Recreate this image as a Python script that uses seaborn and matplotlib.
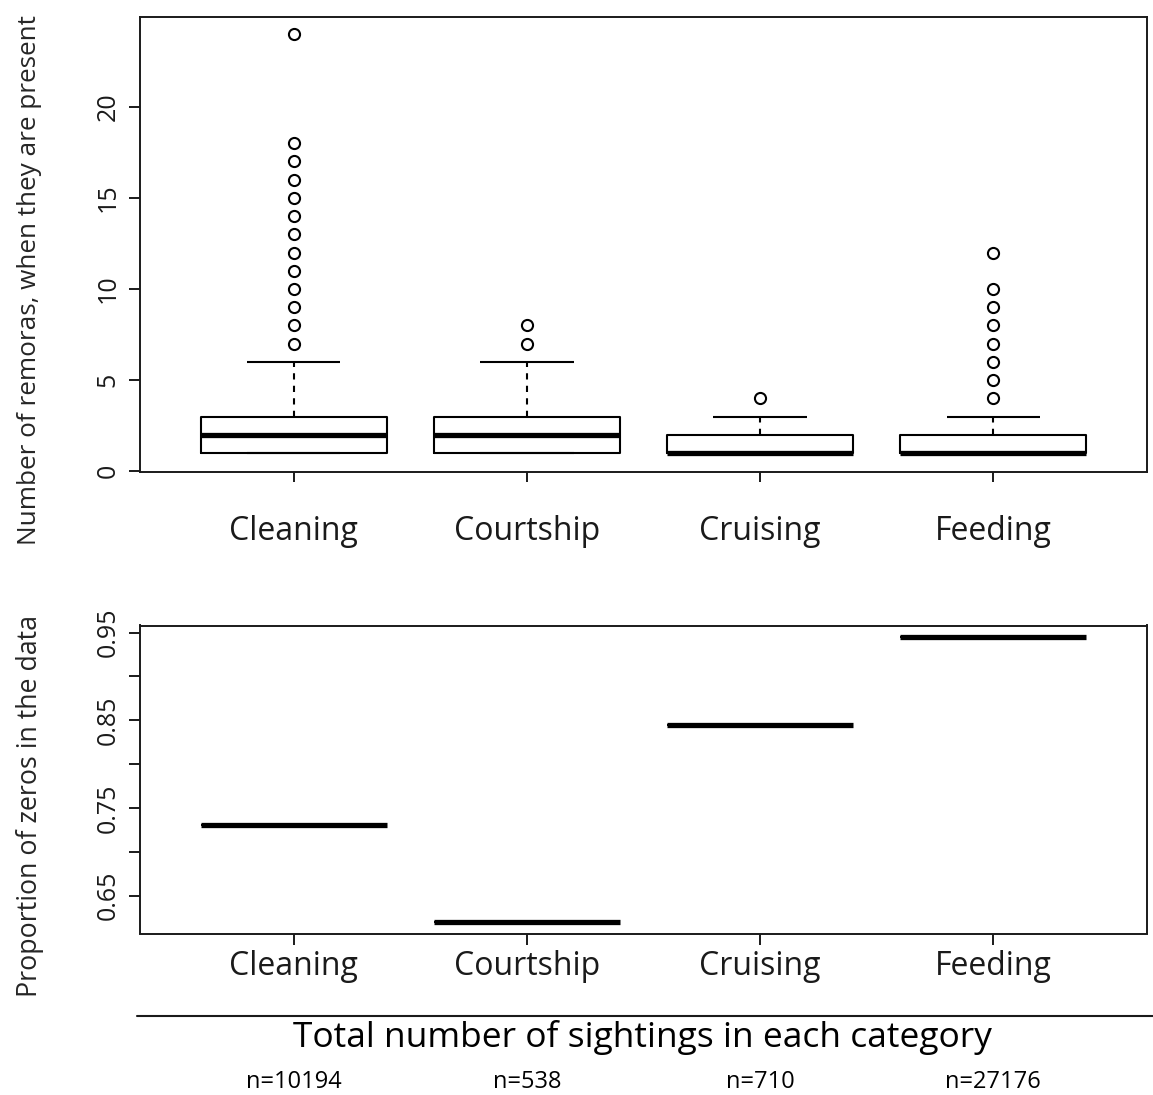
import numpy as np
import matplotlib
matplotlib.use("Agg")
import matplotlib.pyplot as plt
from matplotlib.lines import Line2D
from matplotlib.ticker import FixedLocator
import seaborn as sns

# ---- data -------------------------------------------------------------
behaviours = ["Cleaning", "Courtship", "Cruising", "Feeding"]

# Remora counts when present: box-plot summaries per behaviour
q1 = [1, 1, 1, 1]
median = [2, 2, 1, 1]
q3 = [3, 3, 2, 2]
whisker_low = [1, 1, 1, 1]
whisker_high = [6, 6, 3, 3]
cleaning_outliers = [7, 8, 9, 10, 11, 12, 13, 14, 15, 16, 17, 18, 24]
courtship_outliers = [7, 8]
cruising_outliers = [4]
feeding_outliers = [4, 5, 6, 7, 8, 9, 10, 12]

# Proportion of zero counts per behaviour
prop_zeros = [0.731, 0.620, 0.845, 0.945]

# Total sightings per behaviour
n_sightings = [10194, 538, 710, 27176]

top_yticks = [0, 5, 10, 15, 20]
bottom_yticks = [0.65, 0.75, 0.85, 0.95]

# ---- style ------------------------------------------------------------
sns.set_theme(style="ticks")
plt.rcParams["font.family"] = ["Open Sans", "DejaVu Sans"]
plt.rcParams["axes.edgecolor"] = "#1a1a1a"
plt.rcParams["axes.linewidth"] = 1.4
plt.rcParams["xtick.color"] = "#1a1a1a"
plt.rcParams["ytick.color"] = "#1a1a1a"
plt.rcParams["text.color"] = "black"

W, H = 1153, 1095
fig = plt.figure(figsize=(W / 100, H / 100), dpi=100)
fig.patch.set_facecolor("white")

x_left, x_right = 140, 1147
ax1 = fig.add_axes([x_left / W, 1 - 471.7 / H, (x_right - x_left) / W, 454.7 / H])
ax2 = fig.add_axes([x_left / W, 1 - 933.5 / H, (x_right - x_left) / W, 308 / H])

# ---- top panel: box plots of counts ----------------------------------
outliers = [cleaning_outliers, courtship_outliers, cruising_outliers, feeding_outliers]
stats = []
for i, name in enumerate(behaviours):
    stats.append(dict(label=name, q1=q1[i], med=median[i], q3=q3[i],
                      whislo=whisker_low[i], whishi=whisker_high[i],
                      fliers=np.array(outliers[i], dtype=float)))

ax1.bxp(stats, positions=range(len(behaviours)), widths=0.8, capwidths=0.4,
        showfliers=True, patch_artist=False,
        boxprops=dict(color="black", linewidth=1.5),
        whiskerprops=dict(color="black", linewidth=1.5, linestyle=(0, (3, 3))),
        capprops=dict(color="black", linewidth=1.5, solid_capstyle="butt"),
        medianprops=dict(color="black", linewidth=3.8, solid_capstyle="butt"),
        flierprops=dict(marker="o", markerfacecolor="none", markeredgecolor="black",
                        markersize=8, markeredgewidth=1.5, linestyle="none"))

ax1.set_xlim(-0.66, 3.66)
ax1.set_ylim(-0.02, 24.92)
ax1.set_xticks(range(len(behaviours)))
ax1.set_xticklabels(behaviours, fontsize=23)
ax1.set_yticks(top_yticks)
ax1.set_yticklabels([str(v) for v in top_yticks], fontsize=18, rotation=90, va="center")
ax1.tick_params(axis="x", length=7, width=1.4, pad=24)
ax1.tick_params(axis="y", length=8, width=1.4, pad=6)
ax1.set_ylabel("Number of remoras, when they are present", fontsize=18.8)
ax1.yaxis.label.set(ha="center", va="center")
ax1.yaxis.set_label_coords((30 - x_left) / (x_right - x_left), (471.7 - 280) / 454.7)
ax1.grid(False)

# ---- bottom panel: proportion of zeros (single value per group) -------
sns.boxplot(x=behaviours, y=prop_zeros, ax=ax2, width=0.8, color="white",
            linecolor="black", linewidth=1.4, fliersize=0,
            medianprops=dict(color="black", linewidth=3.8, solid_capstyle="butt"))

ax2.set_xlim(-0.66, 3.66)
ax2.set_ylim(0.607, 0.958)
ax2.yaxis.set_major_locator(FixedLocator(bottom_yticks))
ax2.yaxis.set_minor_locator(FixedLocator([0.70, 0.80, 0.90]))
ax2.set_yticklabels([f"{v:.2f}" for v in bottom_yticks], fontsize=18, rotation=90, va="center")
ax2.set_xticks(range(len(behaviours)))
ax2.set_xticklabels(behaviours, fontsize=23)
ax2.tick_params(axis="x", length=8, width=1.4, pad=4)
ax2.tick_params(axis="y", which="both", length=8, width=1.4, pad=6, left=True)
ax2.set_xlabel("")
ax2.set_ylabel("Proportion of zeros in the data", fontsize=19.3)
ax2.yaxis.label.set(ha="center", va="center")
ax2.yaxis.set_label_coords((30 - x_left) / (x_right - x_left), (933.5 - 806) / 308)
ax2.grid(False)
for sp in ax2.spines.values():
    sp.set_visible(True)

# ---- sample sizes footer ----------------------------------------------
fig.add_artist(Line2D([137 / W, 1153 / W], [1 - 1016 / H, 1 - 1016 / H],
                      color="#1a1a1a", linewidth=1.5))
fig.text(642 / W, 1 - 1047 / H, "Total number of sightings in each category",
         fontsize=25.5, ha="center", va="baseline")

footer_trans = matplotlib.transforms.blended_transform_factory(ax2.transData, fig.transFigure)
for i, n in enumerate(n_sightings):
    fig.text(i, 1 - 1088 / H, f"n={n}", transform=footer_trans, fontsize=17,
             ha="center", va="baseline",
             family=["Liberation Sans Narrow", "Open Sans", "DejaVu Sans"])

fig.savefig("out.png", dpi=100, facecolor="white")
